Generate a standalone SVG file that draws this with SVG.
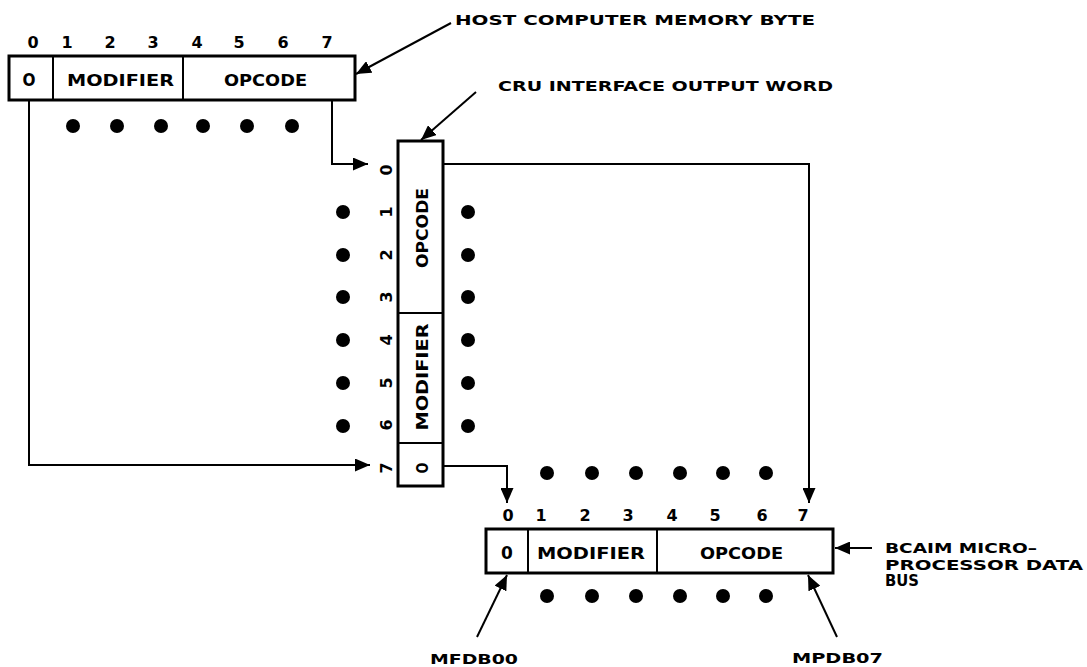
<svg xmlns="http://www.w3.org/2000/svg" width="1087" height="667" viewBox="0 0 1087 667">
<defs>
<marker id="ah" markerUnits="userSpaceOnUse" markerWidth="15" markerHeight="13" refX="15" refY="6.5" orient="auto">
<path d="M0,0 L15,6.5 L0,13 z" fill="#000"/>
</marker>
<style>
.box{fill:#fff;stroke:#000;stroke-width:3}
.div{stroke:#000;stroke-width:2;fill:none}
.ln{stroke:#000;stroke-width:2;fill:none;marker-end:url(#ah)}
.dot{fill:#000}
text{font-family:"DejaVu Sans","Liberation Sans",sans-serif;font-weight:bold;fill:#000}
.lbl{font-size:14px}
.reg{font-size:16px}
.num{font-size:16px;text-anchor:middle}
.mid{text-anchor:middle}
.o{font-size:17px;text-anchor:middle}
</style>
</defs>
<rect width="1087" height="667" fill="#fff"/>

<g id="host-byte">
<rect class="box" x="9" y="56" width="346" height="44"/>
<line class="div" x1="53" y1="56" x2="53" y2="100"/>
<line class="div" x1="183" y1="56" x2="183" y2="100"/>
<text class="o" x="29" y="86" textLength="13" lengthAdjust="spacingAndGlyphs">O</text>
<text class="reg" x="67" y="86" textLength="107" lengthAdjust="spacingAndGlyphs">MODIFIER</text>
<text class="reg" x="224" y="86" textLength="83" lengthAdjust="spacingAndGlyphs">OPCODE</text>
<text class="num" x="33" y="48">0</text>
<text class="num" x="67" y="48">1</text>
<text class="num" x="110" y="48">2</text>
<text class="num" x="153" y="48">3</text>
<text class="num" x="197" y="48">4</text>
<text class="num" x="239" y="48">5</text>
<text class="num" x="283" y="48">6</text>
<text class="num" x="327" y="48">7</text>
<g class="dot">
<circle cx="73" cy="126" r="7"/><circle cx="117" cy="126" r="7"/><circle cx="161" cy="126" r="7"/>
<circle cx="203" cy="126" r="7"/><circle cx="247" cy="126" r="7"/><circle cx="292" cy="126" r="7"/>
</g>
<text class="lbl" x="455" y="25" textLength="360" lengthAdjust="spacingAndGlyphs">HOST COMPUTER MEMORY BYTE</text>
</g>

<g id="cru-word">
<rect class="box" x="398" y="141" width="45" height="345"/>
<line class="div" x1="398" y1="313" x2="443" y2="313"/>
<line class="div" x1="398" y1="443" x2="443" y2="443"/>
<text class="mid" transform="translate(428,228) rotate(-90)" style="font-size:15px" textLength="80" lengthAdjust="spacingAndGlyphs">OPCODE</text>
<text class="mid" transform="translate(428,377) rotate(-90)" style="font-size:15px" textLength="107" lengthAdjust="spacingAndGlyphs">MODIFIER</text>
<text class="o" transform="translate(428,468) rotate(-90)" style="font-size:16px" textLength="11" lengthAdjust="spacingAndGlyphs">O</text>
<text class="num" transform="translate(392,170) rotate(-90)">0</text>
<text class="num" transform="translate(392,212) rotate(-90)">1</text>
<text class="num" transform="translate(392,255) rotate(-90)">2</text>
<text class="num" transform="translate(392,297) rotate(-90)">3</text>
<text class="num" transform="translate(392,340) rotate(-90)">4</text>
<text class="num" transform="translate(392,383) rotate(-90)">5</text>
<text class="num" transform="translate(392,425) rotate(-90)">6</text>
<text class="num" transform="translate(392,468) rotate(-90)">7</text>
<g class="dot">
<circle cx="343" cy="212" r="7"/><circle cx="343" cy="255" r="7"/><circle cx="343" cy="297" r="7"/>
<circle cx="343" cy="340" r="7"/><circle cx="343" cy="383" r="7"/><circle cx="343" cy="426" r="7"/>
<circle cx="468" cy="212" r="7"/><circle cx="468" cy="255" r="7"/><circle cx="468" cy="297" r="7"/>
<circle cx="468" cy="340" r="7"/><circle cx="468" cy="383" r="7"/><circle cx="468" cy="426" r="7"/>
</g>
<text class="lbl" x="498" y="91" textLength="335" lengthAdjust="spacingAndGlyphs">CRU INTERFACE OUTPUT WORD</text>
</g>

<g id="bcaim-bus">
<rect class="box" x="486" y="529" width="347" height="44"/>
<line class="div" x1="528" y1="529" x2="528" y2="573"/>
<line class="div" x1="657" y1="529" x2="657" y2="573"/>
<text class="o" x="507" y="559" style="font-size:17px">0</text>
<text class="reg" x="537" y="559" textLength="108" lengthAdjust="spacingAndGlyphs">MODIFIER</text>
<text class="reg" x="700" y="559" textLength="83" lengthAdjust="spacingAndGlyphs">OPCODE</text>
<text class="num" x="508" y="521">0</text>
<text class="num" x="541" y="521">1</text>
<text class="num" x="585" y="521">2</text>
<text class="num" x="628" y="521">3</text>
<text class="num" x="672" y="521">4</text>
<text class="num" x="715" y="521">5</text>
<text class="num" x="762" y="521">6</text>
<text class="num" x="803" y="521">7</text>
<g class="dot">
<circle cx="547" cy="473" r="7"/><circle cx="592" cy="473" r="7"/><circle cx="636" cy="473" r="7"/>
<circle cx="680" cy="473" r="7"/><circle cx="723" cy="473" r="7"/><circle cx="766" cy="473" r="7"/>
<circle cx="547" cy="596" r="7"/><circle cx="592" cy="596" r="7"/><circle cx="636" cy="596" r="7"/>
<circle cx="680" cy="596" r="7"/><circle cx="723" cy="596" r="7"/><circle cx="766" cy="596" r="7"/>
</g>
<text class="lbl" x="885" y="553" textLength="152" lengthAdjust="spacingAndGlyphs">BCAIM MICRO–</text>
<text class="lbl" x="885" y="570" textLength="198" lengthAdjust="spacingAndGlyphs">PROCESSOR DATA</text>
<text class="lbl" x="885" y="586" style="font-size:15px" textLength="34" lengthAdjust="spacingAndGlyphs">BUS</text>
</g>

<g id="mpdb-labels">
<text class="lbl" x="430" y="664" textLength="88" lengthAdjust="spacingAndGlyphs">MFDB00</text>
<text class="lbl" x="792" y="663" textLength="91" lengthAdjust="spacingAndGlyphs">MPDB07</text>
</g>

<g id="connectors">
<path class="ln" d="M29,100 V465 H370"/>
<path class="ln" d="M332,100 V164 H368"/>
<path class="ln" d="M443,164 H809 V503"/>
<path class="ln" d="M443,466 H507 V503"/>
<path class="ln" d="M451,23 L356,74"/>
<path class="ln" d="M476,92 L421,140"/>
<path class="ln" d="M872,548 H835"/>
<path class="ln" d="M477,637 L507,575"/>
<path class="ln" d="M837,637 L808,575"/>
</g>
</svg>
